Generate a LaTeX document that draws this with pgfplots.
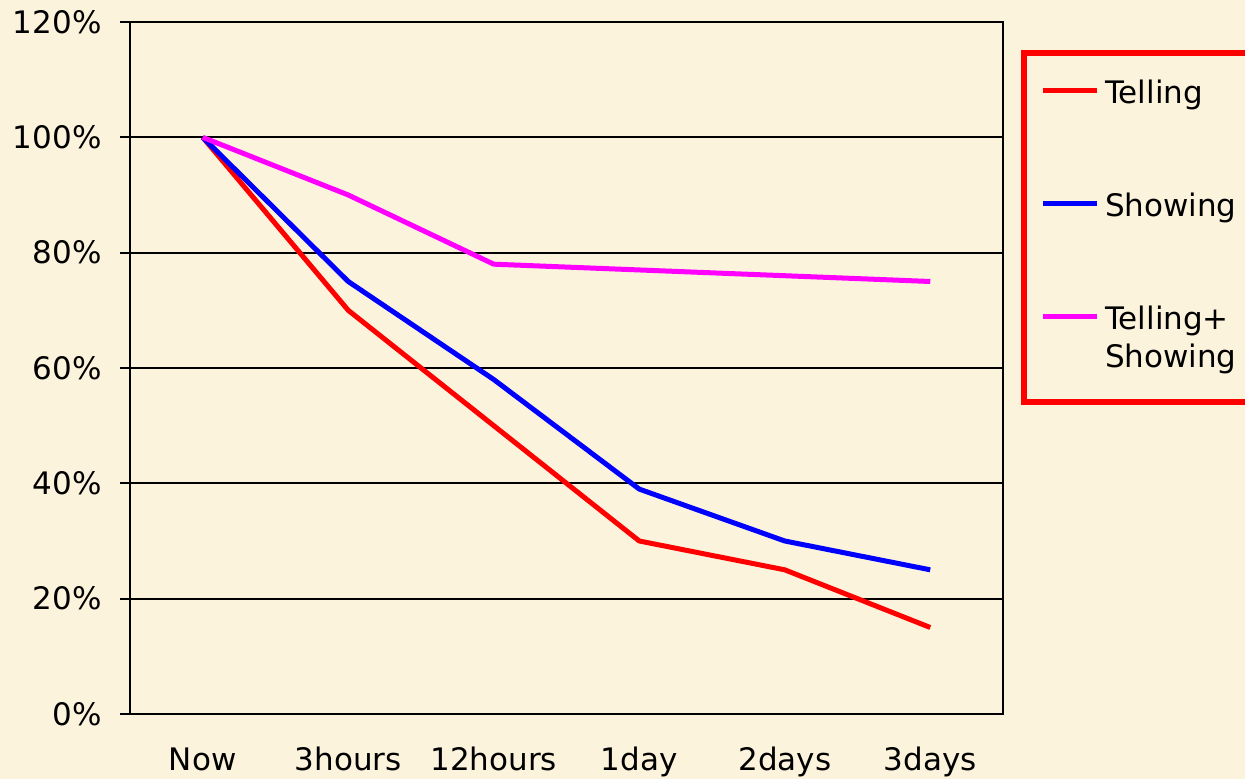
\documentclass[border=0pt]{standalone}
\usepackage{pgfplots}
\pgfplotsset{compat=1.18}
\usepackage{fontspec}
\setmainfont{DejaVu Sans}
\definecolor{bgc}{RGB}{252,243,221}
\definecolor{mag}{RGB}{255,0,255}
\definecolor{rd}{RGB}{255,0,0}
\definecolor{bl}{RGB}{0,0,255}
\begin{document}
\fontsize{15.5pt}{19pt}\selectfont
\begin{tikzpicture}
\fill[bgc] (-65pt,-32.5pt) rectangle (557.5pt,357pt);
\begin{axis}[
  at={(0pt,0pt)}, anchor=south west,
  scale only axis, width=436.5pt, height=346pt,
  xmin=-0.5, xmax=5.5, ymin=0, ymax=120,
  xtick={0,...,5}, xticklabels={Now,3hours,12hours,1day,2days,3days},
  ytick={0,20,...,120}, yticklabels={0\%,20\%,40\%,60\%,80\%,100\%,120\%},
  ymajorgrids, grid style={black, line width=1pt},
  axis line style={black, line width=1pt},
  x tick style={draw=none},
  y tick style={black, line width=1pt},
  tick align=outside, major tick length=5pt,
  ytick pos=left, xtick pos=bottom,
  tick label style={font=\fontsize{15.5pt}{19pt}\selectfont},
  xticklabel style={anchor=base, yshift=-23.5pt},
  yticklabel style={anchor=east, inner sep=0pt, xshift=-9pt},
  legend style={at={(axis description cs:1.02348,0.95448)}, anchor=north west,
    draw=rd, line width=3pt, fill=bgc, outer sep=0pt,
    inner xsep=8.25pt, inner ysep=11.6pt, row sep=37.5pt, column sep=3pt,
    font=\fontsize{15.5pt}{19pt}\selectfont,
    cells={anchor=base west}, nodes={inner sep=0pt, text depth={}}},
  legend image code/.code={\draw[#1, line width=2.5pt] (0pt,6.3pt) -- (27pt,6.3pt);},
]
\addplot[rd, line width=2.5pt, line join=round] coordinates {(0,100)(1,70)(2,50)(3,30)(4,25)(5,15)};
\addlegendentry{\begin{tabular}[t]{@{}l@{}}Telling\end{tabular}}
\addplot[bl, line width=2.5pt, line join=round] coordinates {(0,100)(1,75)(2,58)(3,39)(4,30)(5,25)};
\addlegendentry{\begin{tabular}[t]{@{}l@{}}Showing\end{tabular}}
\addplot[mag, line width=2.5pt, line join=round] coordinates {(0,100)(1,90)(2,78)(3,77)(4,76)(5,75)};
\addlegendentry{\begin{tabular}[t]{@{}l@{}}Telling+\\Showing\end{tabular}}
\end{axis}
\pgfresetboundingbox
\path (-65pt,-32.5pt) rectangle (557.5pt,357pt);
\end{tikzpicture}
\end{document}
